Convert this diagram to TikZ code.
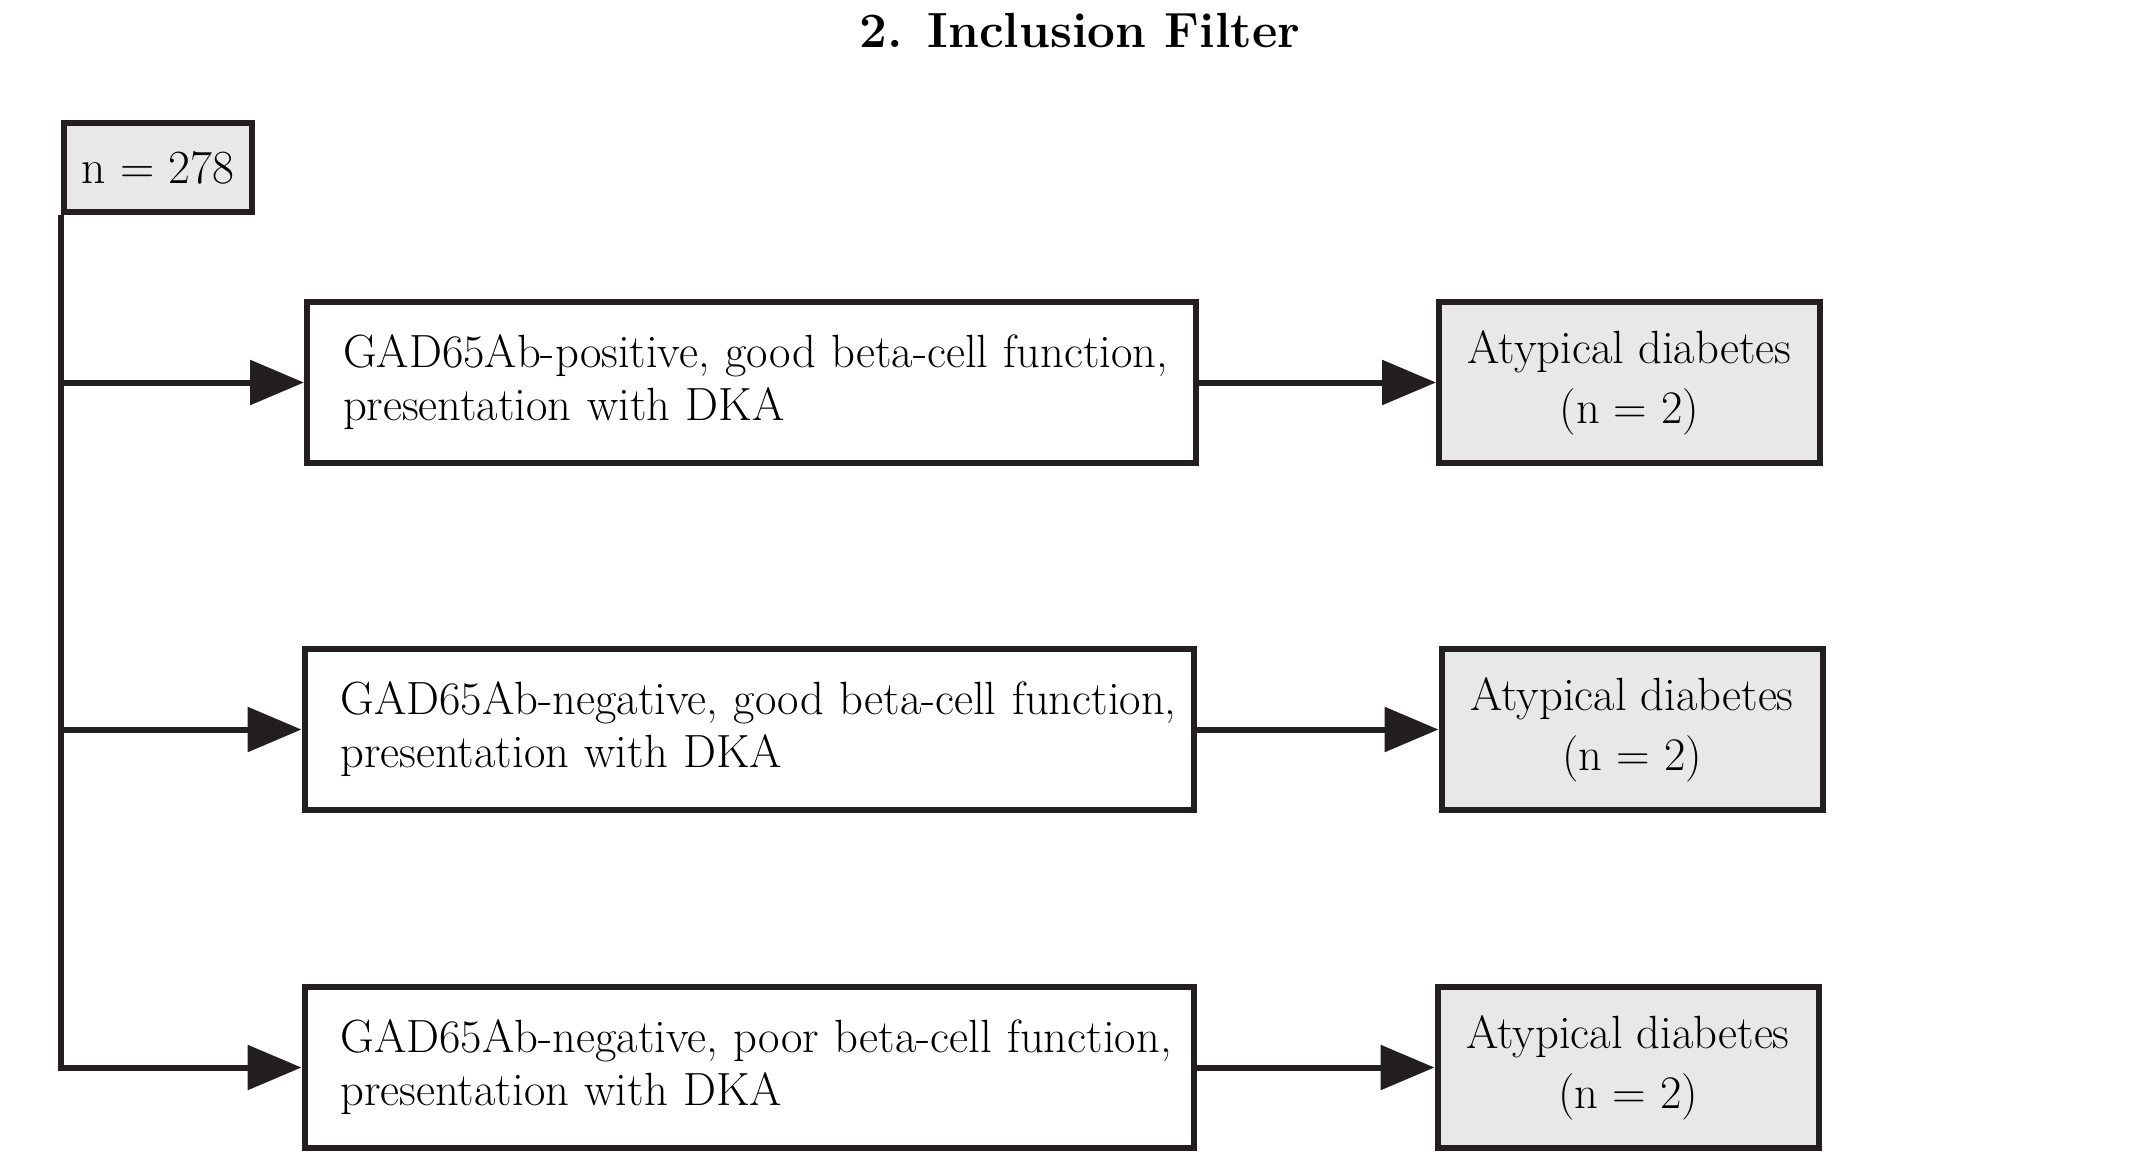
\documentclass[tikz,border=0pt]{standalone}
\usetikzlibrary{arrows.meta}
\definecolor{ink}{HTML}{231F20}
\definecolor{boxgray}{HTML}{E8E8E8}
\begin{document}
\begin{tikzpicture}[x=0.5pt,y=-0.5pt,
  box/.style={draw=ink, line width=3pt, rectangle, inner sep=0pt},
  critbox/.style={box, fill=white, minimum width=444.5pt, minimum height=80.5pt,
    text width=444.5pt, align=left, execute at begin node={\leftskip=18pt},
    font=\fontsize{23.3}{26.5}\selectfont},
  resbox/.style={box, fill=boxgray, minimum width=190.5pt, minimum height=80.5pt,
    align=center, font=\fontsize{23.3}{30}\selectfont},
  conn/.style={draw=ink, line width=3pt, line join=miter},
  arr/.style={conn, -{Triangle[length=27pt,width=22pt]}}]
\useasboundingbox (0,0) rectangle (2138,1174);
\node[font=\bfseries\fontsize{24.7}{30}\selectfont, anchor=base] (title) at (1080,47) {2. Inclusion Filter};
\node[box, fill=boxgray, minimum width=94pt, minimum height=44.5pt, font=\fontsize{23.8}{26.5}\selectfont] (n0) at (158,167.5) {n = 278};
\node[critbox] (b1) at (751.5,382.5) {\mbox{GAD65Ab-positive, good beta-cell function,}\\\mbox{presentation with DKA}};
\node[critbox] (b2) at (749,729.5) {\mbox{GAD65Ab-negative, good beta-cell function,}\\\mbox{presentation with DKA}};
\node[critbox] (b3) at (749,1067.5) {\mbox{GAD65Ab-negative, poor beta-cell function,}\\\mbox{presentation with DKA}};
\node[resbox] (r1) at (1629.5,382.5) {Atypical diabetes\\(n = 2)};
\node[resbox] (r2) at (1632,729.5) {Atypical diabetes\\(n = 2)};
\node[resbox] (r3) at (1628,1067.5) {Atypical diabetes\\(n = 2)};
\coordinate (trunk) at (n0.south west);
\draw[arr] (trunk) |- (b3.west);
\draw[arr] (trunk |- b1.west) -- (b1.west);
\draw[arr] (trunk |- b2.west) -- (b2.west);
\draw[arr] (b1.east) -- (r1.west);
\draw[arr] (b2.east) -- (r2.west);
\draw[arr] (b3.east) -- (r3.west);
\end{tikzpicture}
\end{document}
